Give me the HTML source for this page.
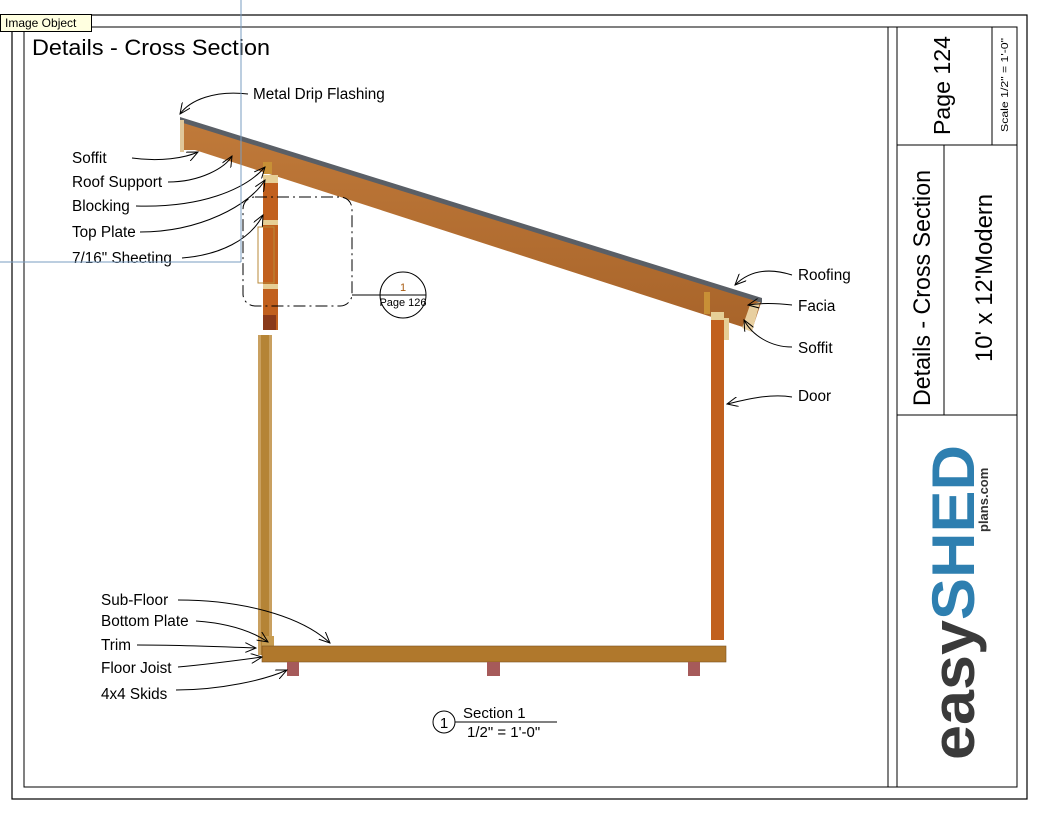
<!DOCTYPE html>
<html><head><meta charset="utf-8"><style>
body{margin:0;background:#fff;}
svg{display:block;font-family:"Liberation Sans",sans-serif;}
</style></head><body>
<svg width="1045" height="827" viewBox="0 0 1045 827" xmlns="http://www.w3.org/2000/svg">
<defs>
<marker id="a" markerWidth="12" markerHeight="10" refX="11" refY="5" orient="auto" markerUnits="userSpaceOnUse">
<path d="M0,0 L11,5 L0,10" fill="none" stroke="#000" stroke-width="1"/></marker>
<linearGradient id="w" x1="0" y1="0" x2="0" y2="1"><stop offset="0" stop-color="#c07a3a"/><stop offset="1" stop-color="#a8642a"/></linearGradient>
</defs>
<rect x="12" y="15" width="1015" height="784" fill="none" stroke="#000" stroke-width="1.2"/>
<rect x="24" y="27" width="993" height="760" fill="none" stroke="#000" stroke-width="1"/>
<line x1="888" y1="27" x2="888" y2="787" stroke="#000"/>
<line x1="897" y1="27" x2="897" y2="787" stroke="#000"/>
<line x1="897" y1="145" x2="1017" y2="145" stroke="#000"/>
<line x1="897" y1="415" x2="1017" y2="415" stroke="#000"/>
<line x1="992" y1="27" x2="992" y2="145" stroke="#000"/>
<line x1="944" y1="145" x2="944" y2="415" stroke="#000"/>
<text transform="translate(950,135) rotate(-90)" font-size="23" textLength="99" lengthAdjust="spacingAndGlyphs">Page 124</text>
<text transform="translate(1008,132) rotate(-90)" font-size="10" textLength="94" lengthAdjust="spacingAndGlyphs">Scale   1/2" = 1'-0"</text>
<text transform="translate(930,406) rotate(-90)" font-size="24" textLength="236" lengthAdjust="spacingAndGlyphs">Details - Cross Section</text>
<text transform="translate(992,362) rotate(-90)" font-size="24" textLength="168" lengthAdjust="spacingAndGlyphs">10' x 12'Modern</text>
<text transform="translate(974,760) rotate(-90)" font-size="60" font-weight="bold" fill="#3a3a3a" textLength="315" lengthAdjust="spacingAndGlyphs">easy<tspan fill="#2e7fb0">SHED</tspan></text>
<text transform="translate(988,532) rotate(-90)" font-size="13" font-weight="bold" fill="#333">plans.com</text>
<text x="32" y="55" font-size="22" textLength="238" lengthAdjust="spacingAndGlyphs">Details - Cross Section</text>
<!-- roof -->
<polygon points="180,119 762,300 752,330 195,150 180,150" fill="url(#w)"/>
<polygon points="180,117 762,298 762,303 180,122" fill="#5a5f66"/>
<rect x="180" y="120" width="4" height="32" fill="#e0c79a"/>
<polygon points="750,305 760,302 752,332 742,328" fill="#e8cfa0"/>
<!-- left wall top -->
<rect x="263" y="162" width="9" height="12" fill="#c89036"/>
<rect x="263" y="175" width="15" height="155" fill="#c1601e"/>
<rect x="263" y="175" width="15" height="8" fill="#e6cf96"/>
<rect x="263" y="220" width="15" height="5" fill="#e6cf96"/>
<rect x="263" y="284" width="15" height="5" fill="#e6cf96"/>
<rect x="258" y="227" width="16" height="56" fill="none" stroke="#b88a3a"/>
<rect x="263" y="315" width="13" height="15" fill="#8a3a1a"/>
<!-- lower left wall -->
<rect x="258" y="335" width="14" height="320" fill="#c9a060"/>
<rect x="261" y="335" width="8" height="320" fill="#b58436"/>
<rect x="262" y="636" width="12" height="10" fill="#c89c50"/>
<!-- right wall -->
<rect x="704" y="292" width="6" height="22" fill="#c89036"/>
<rect x="711" y="312" width="13" height="328" fill="#c1601e"/>
<rect x="711" y="312" width="13" height="8" fill="#e6cf96"/>
<rect x="724" y="318" width="5" height="22" fill="#e6cf96"/>
<!-- floor -->
<rect x="262" y="646" width="464" height="16" fill="#b0782c" stroke="#7a5220" stroke-width=".6"/>
<rect x="287" y="662" width="12" height="14" fill="#a65a5a"/>
<rect x="487" y="662" width="13" height="14" fill="#a65a5a"/>
<rect x="688" y="662" width="12" height="14" fill="#a65a5a"/>
<!-- detail callout -->
<rect x="243" y="197" width="109" height="109" rx="12" fill="none" stroke="#000" stroke-dasharray="12,4,2,4"/>
<line x1="352" y1="295" x2="380" y2="295" stroke="#000"/>
<circle cx="403" cy="295" r="23" fill="none" stroke="#000"/>
<line x1="380" y1="295" x2="426" y2="295" stroke="#000"/>
<text x="403" y="291" font-size="11" text-anchor="middle" fill="#a85a10">1</text>
<text x="403" y="306" font-size="11" text-anchor="middle">Page 126</text>
<!-- section label -->
<circle cx="444" cy="722" r="11" fill="none" stroke="#000"/>
<text x="444" y="728" font-size="15" text-anchor="middle">1</text>
<line x1="455" y1="722" x2="557" y2="722" stroke="#000"/>
<text x="463" y="718" font-size="15">Section 1</text>
<text x="467" y="737" font-size="15">1/2" = 1'-0"</text>
<!-- labels -->
<g font-size="15.3">
<text x="253" y="99">Metal Drip Flashing</text>
<text x="72" y="163">Soffit</text>
<text x="72" y="187">Roof Support</text>
<text x="72" y="211">Blocking</text>
<text x="72" y="237">Top Plate</text>
<text x="72" y="263">7/16" Sheeting</text>
<text x="798" y="280">Roofing</text>
<text x="798" y="311">Facia</text>
<text x="798" y="353">Soffit</text>
<text x="798" y="401">Door</text>
<text x="101" y="605">Sub-Floor</text>
<text x="101" y="626">Bottom Plate</text>
<text x="101" y="650">Trim</text>
<text x="101" y="673">Floor Joist</text>
<text x="101" y="699">4x4 Skids</text>
</g>
<g fill="none" stroke="#000" stroke-width="1" marker-end="url(#a)">
<path d="M248,94 C215,90 190,100 180,114"/>
<path d="M132,158 C160,162 185,158 198,152"/>
<path d="M168,182 C200,182 225,168 232,156"/>
<path d="M136,206 C200,208 245,190 265,167"/>
<path d="M140,232 C200,232 250,205 265,180"/>
<path d="M182,258 C220,255 250,240 263,215"/>
<path d="M792,275 C770,268 750,270 735,285"/>
<path d="M792,305 C775,303 760,303 748,305"/>
<path d="M792,347 C770,347 752,335 744,320"/>
<path d="M792,397 C770,393 745,400 727,404"/>
<path d="M178,600 C240,600 300,615 330,643"/>
<path d="M196,621 C225,623 250,630 268,642"/>
<path d="M137,645 C180,645 230,647 256,648"/>
<path d="M178,667 C210,664 240,660 262,657"/>
<path d="M176,690 C220,690 265,680 287,670"/>
</g>
<!-- image object overlay -->
<line x1="241" y1="0" x2="241" y2="262" stroke="#7a9cc0"/>
<line x1="0" y1="262" x2="241" y2="262" stroke="#7a9cc0"/>
<rect x="0.5" y="14.5" width="91" height="17" fill="#ffffe0" stroke="#000"/>
<text x="5" y="27" font-size="12">Image Object</text>
</svg>
</body></html>
